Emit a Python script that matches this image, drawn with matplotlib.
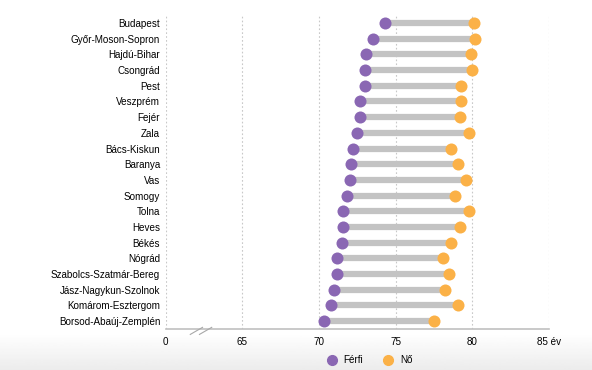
import numpy as np
import matplotlib
matplotlib.use("Agg")
import matplotlib.pyplot as plt
from matplotlib.lines import Line2D
from matplotlib import font_manager

installed = {f.name for f in font_manager.fontManager.ttflist}
if "Liberation Sans Narrow" in installed:
    plt.rcParams['font.family'] = ['Liberation Sans Narrow', 'DejaVu Sans']
    fs = 8.2
else:
    plt.rcParams['font.family'] = ['Liberation Sans', 'DejaVu Sans']
    fs = 7.1

counties = ["Budapest", "Győr-Moson-Sopron", "Hajdú-Bihar", "Csongrád", "Pest",
            "Veszprém", "Fejér", "Zala", "Bács-Kiskun", "Baranya", "Vas", "Somogy",
            "Tolna", "Heves", "Békés", "Nógrád", "Szabolcs-Szatmár-Bereg",
            "Jász-Nagykun-Szolnok", "Komárom-Esztergom", "Borsod-Abaúj-Zemplén"]
ferfi = [74.3, 73.5, 73.1, 73.0, 73.0, 72.7, 72.7, 72.5, 72.2, 72.1, 72.0, 71.8,
         71.6, 71.6, 71.5, 71.2, 71.2, 71.0, 70.8, 70.3]
no = [80.1, 80.2, 79.9, 80.0, 79.3, 79.3, 79.2, 79.8, 78.6, 79.1, 79.6, 78.9,
      79.8, 79.2, 78.6, 78.1, 78.5, 78.2, 79.1, 77.5]
tick_pos = [60, 65, 70, 75, 80, 85]
tick_labels = ["0", "65", "70", "75", "80", "85 év"]

purple = "#8a67b3"
orange = "#fbb147"
bar_gray = "#c3c3c3"

fig = plt.figure(figsize=(5.92, 3.70), dpi=100)

# faint gray gradient at the bottom
bg = fig.add_axes([0, 0, 1, 0.1], zorder=-5)
grad = np.linspace(1.0, 0.925, 50).reshape(-1, 1)
bg.imshow(grad, aspect="auto", cmap="gray", vmin=0, vmax=1, extent=[0, 1, 0, 1])
bg.axis("off")

ax = fig.add_axes([0.280, 0.111, 0.647, 0.848])
ax.patch.set_alpha(0)
y = np.arange(len(counties))[::-1]

ax.hlines(y, ferfi, no, color=bar_gray, linewidth=4.5, zorder=2)
ax.scatter(ferfi, y, s=75, color=purple, zorder=3, linewidths=0)
ax.scatter(no, y, s=75, color=orange, zorder=3, linewidths=0)

ax.set_xlim(60, 85)
ax.set_ylim(-0.5, len(counties) - 0.5)
ax.set_xticks(tick_pos)
ax.set_xticklabels(tick_labels, fontsize=fs)
ax.set_yticks(y)
ax.set_yticklabels(counties, fontsize=fs)
ax.tick_params(axis="both", length=0, pad=4)
ax.tick_params(axis="x", pad=6)

for xv in tick_pos:
    ax.axvline(xv, color="#c8c8c8", linestyle=(0, (1.5, 2)), linewidth=0.8, zorder=1)

for s in ["top", "right", "left"]:
    ax.spines[s].set_visible(False)
ax.spines["bottom"].set_color("#c0c0c0")
ax.spines["bottom"].set_linewidth(1.2)

# axis break marks
for xb in (62.0, 62.6):
    ax.plot([xb - 0.4, xb + 0.4], [-0.85, -0.4], color="#a8a8a8", linewidth=0.8,
            clip_on=False, zorder=4)

handles = [Line2D([], [], marker="o", linestyle="", color=purple, markersize=7, label="Férfi"),
           Line2D([], [], marker="o", linestyle="", color=orange, markersize=7, label="Nő")]
fig.legend(handles=handles, loc="center", bbox_to_anchor=(0.62, 0.027), ncol=2,
           frameon=False, fontsize=fs, handletextpad=0.2, columnspacing=1.5)

fig.savefig("out.png", dpi=100)
